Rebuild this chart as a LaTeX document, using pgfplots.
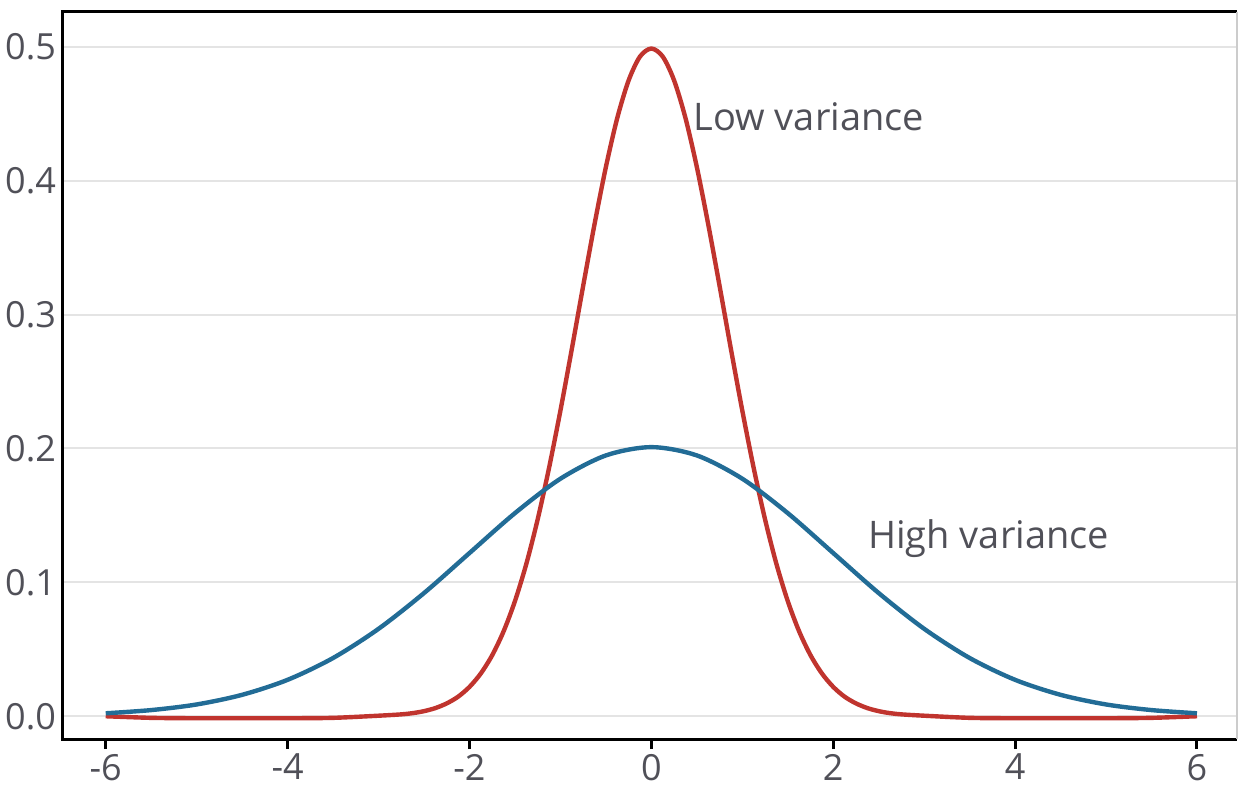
\documentclass[border=0pt]{standalone}
\usepackage{fontspec}
\setmainfont{Open Sans}
\usepackage{pgfplots}
\pgfplotsset{compat=1.18}
\definecolor{lowred}{RGB}{192,52,46}
\definecolor{highblue}{RGB}{34,108,150}
\definecolor{txtgray}{RGB}{80,80,88}
\definecolor{gridgray}{RGB}{228,228,228}

\begin{document}
\begin{tikzpicture}
  \begin{axis}[
      scale only axis,
      width=587pt, height=363.5pt,
      xmin=-6.47, xmax=6.44,
      ymin=-0.017, ymax=0.526,
      xtick={-6,-4,...,6},
      ytick={0,0.1,...,0.5},
      axis line style={draw=none},
      ymajorgrids,
      grid style={gridgray, line width=1pt},
      xtick pos=bottom, ytick pos=left,
      tick align=outside,
      major tick length=5pt,
      x tick style={black, line width=1.5pt},
      y tick style={draw=none},
      ticklabel style={font=\fontsize{18}{22}\selectfont, text=txtgray},
      xticklabel style={yshift=1pt},
      yticklabel style={xshift=5pt},
      /pgf/number format/assume math mode=true,
      yticklabel style={/pgf/number format/.cd, fixed, fixed zerofill, precision=1},
      clip=false,
    ]

    % low variance
    \addplot[lowred, line width=2.2pt, smooth] coordinates {
      (-6,0) (-5.5,-0.0012) (-5,-0.0015) (-4.5,-0.0015) (-4,-0.0015) (-3.5,-0.0012) (-3,0.0004)
      (-2.75,0.0014) (-2.625,0.0023) (-2.5,0.0038) (-2.375,0.0061) (-2.25,0.0096)
      (-2.125,0.0146) (-2,0.0219) (-1.875,0.0320)
      (-1.75,0.0456) (-1.625,0.0634) (-1.5,0.0860) (-1.375,0.1138) (-1.25,0.1471)
      (-1.125,0.1855) (-1,0.2283) (-0.875,0.2742) (-0.75,0.3214) (-0.625,0.3675)
      (-0.5,0.4102) (-0.375,0.4468) (-0.25,0.4749) (-0.125,0.4927) (0,0.4987)
      (0.125,0.4927) (0.25,0.4749) (0.375,0.4468) (0.5,0.4102) (0.625,0.3675)
      (0.75,0.3214) (0.875,0.2742) (1,0.2283) (1.125,0.1855) (1.25,0.1471)
      (1.375,0.1138) (1.5,0.0860) (1.625,0.0634) (1.75,0.0456) (1.875,0.0320)
      (2,0.0219) (2.125,0.0146) (2.25,0.0096) (2.375,0.0061) (2.5,0.0038)
      (2.625,0.0023) (2.75,0.0014) (3,0.0004)
      (3.5,-0.0012) (4,-0.0015) (4.5,-0.0015) (5,-0.0015) (5.5,-0.0012) (6,0)
    };

    % high variance
    \addplot[highblue, line width=2.2pt, smooth] coordinates {
      (-6,0.0022) (-5.5,0.0046) (-5,0.0088) (-4.5,0.0160) (-4,0.0272)
      (-3.5,0.0435) (-3,0.0653) (-2.5,0.0920) (-2,0.1219) (-1.5,0.1517)
      (-1,0.1774) (-0.5,0.1948) (0,0.2010) (0.5,0.1948) (1,0.1774)
      (1.5,0.1517) (2,0.1219) (2.5,0.0920) (3,0.0653) (3.5,0.0435)
      (4,0.0272) (4.5,0.0160) (5,0.0088) (5.5,0.0046) (6,0.0022)
    };

    \node[anchor=west, text=txtgray, font=\fontsize{19}{23}\selectfont, inner sep=0pt]
      at (axis cs:0.46,0.448) {Low variance};
    \node[anchor=west, text=txtgray, font=\fontsize{19}{23}\selectfont, inner sep=0pt]
      at (axis cs:2.38,0.133) {High variance};

    % frame: heavy left, bottom and top, light right
    \draw[black, line width=1.5pt] (rel axis cs:1,1) -- (rel axis cs:0,1) -- (rel axis cs:0,0) -- (rel axis cs:1,0);
    \draw[gray!40, line width=0.6pt] (rel axis cs:1,1) -- (rel axis cs:1,0);
  \end{axis}
  \pgfresetboundingbox
  \path (current axis.south west) ++(-31.5pt,-24pt) rectangle ++(620.5pt,393.5pt);
\end{tikzpicture}
\end{document}
